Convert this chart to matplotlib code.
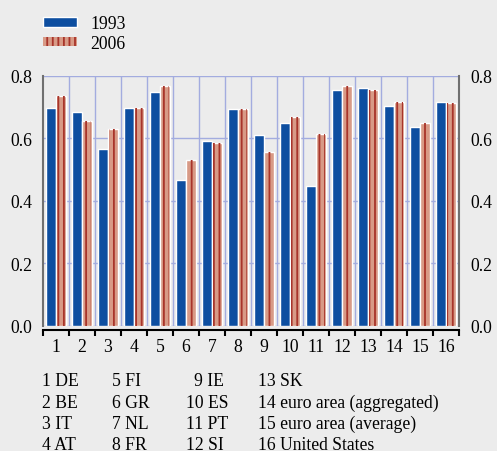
import matplotlib
matplotlib.use("Agg")
import matplotlib.pyplot as plt
import numpy as np
from matplotlib.patches import Patch

plt.rcParams['font.family'] = ['Liberation Serif', 'DejaVu Serif']
plt.rcParams['hatch.linewidth'] = 1.3

categories = [str(i) for i in range(1, 17)]
v1993 = [0.697, 0.685, 0.566, 0.697, 0.748, 0.466, 0.592, 0.692,
         0.611, 0.648, 0.448, 0.754, 0.760, 0.704, 0.635, 0.717]
v2006 = [0.736, 0.655, 0.629, 0.697, 0.767, 0.530, 0.586, 0.692,
         0.555, 0.667, 0.612, 0.768, 0.754, 0.717, 0.649, 0.711]
series_labels = ["1993", "2006"]
yticks = [0.0, 0.2, 0.4, 0.6, 0.8]
key_columns = [
    ["1 DE", "2 BE", "3 IT", "4 AT"],
    ["5 FI", "6 GR", "7 NL", "8 FR"],
    ["9 IE", "10 ES", "11 PT", "12 SI"],
    ["13 SK", "14 euro area (aggregated)", "15 euro area (average)", "16 United States"],
]

BG = "#ececec"
BLUE = "#0d4ea0"
SALMON = "#d89a86"
DARKRED = "#a8342a"
GRID = "#a3acdf"
FS = 12.7

W, H = 497, 452
fig = plt.figure(figsize=(W / 100, H / 100), dpi=100, facecolor=BG)
ax = fig.add_axes([43 / W, 1 - 326.5 / H, (459 - 43) / W, (326.5 - 76.7) / H])
ax.set_facecolor(BG)

x = np.arange(1, len(categories) + 1)
bw = 0.4
ax.bar(x - 0.2, v1993, width=bw, color=BLUE, edgecolor="white", linewidth=1.0, zorder=2)
ax.bar(x + 0.2, v2006, width=bw, color=SALMON, edgecolor="white", linewidth=1.0, zorder=2)
ax.bar(x + 0.2, v2006, width=bw - 0.08, facecolor="none", edgecolor=DARKRED,
       linewidth=0, hatch="|||", zorder=3)

ax.set_xlim(0.5, len(categories) + 0.5)
ax.set_ylim(0, 0.8)

# grid
ax.set_axisbelow(True)
ax.set_yticks(yticks)
ax.set_yticklabels([f"{t:.1f}" for t in yticks])
ax.yaxis.grid(True, color=GRID, linewidth=1.0)
ax.set_xticks(np.arange(0.5, len(categories) + 1.5, 1.0))
ax.set_xticklabels([])
ax.set_xticks(x, minor=True)
ax.set_xticklabels(categories, minor=True)
for b in np.arange(1.5, len(categories), 1.0):
    ax.axvline(b, color=GRID, linewidth=1.0, zorder=0)

ax.tick_params(axis="x", which="major", direction="out", length=4, width=1.5, color="black")
ax.tick_params(axis="x", which="minor", length=0, pad=6, labelsize=FS)
ax.tick_params(axis="y", length=0, pad=8, labelsize=FS, labelright=True, right=False)

ax.spines["top"].set_visible(False)
ax.spines["bottom"].set_position(("outward", 3))
ax.spines["bottom"].set_linewidth(1.5)
ax.spines["bottom"].set_color("black")
for s in ["left", "right"]:
    ax.spines[s].set_color("#707070")
    ax.spines[s].set_linewidth(1.5)

# legend
handles = [Patch(facecolor=BLUE, edgecolor="white", linewidth=1.0),
           Patch(facecolor=SALMON, edgecolor=DARKRED, linewidth=0, hatch="|||")]
leg = fig.legend(handles, series_labels, loc="upper left",
                 bbox_to_anchor=(31 / W, 1 - 4 / H), frameon=False,
                 fontsize=FS, handlelength=1.9, handleheight=0.45,
                 handletextpad=0.75, labelspacing=0.13, borderpad=0.2)

# key
col_x = [42, 112.5, 186.5, 257.5]
row_y = [381.7, 403.3, 424.3, 446]
for cx, col in zip(col_x, key_columns):
    for ry, txt in zip(row_y, col):
        xx = cx
        if txt.startswith("9 "):
            xx = cx + 7.5
        fig.text(xx / W, 1 - ry / H, txt, fontsize=FS, ha="left", va="center")

fig.savefig("out.png", dpi=100, facecolor=BG)
